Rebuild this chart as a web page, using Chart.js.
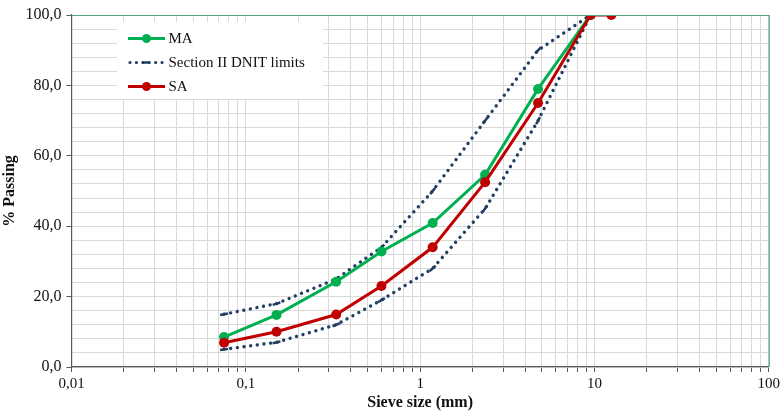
<!DOCTYPE html>
<html>
<head>
<meta charset="utf-8">
<script src="https://cdn.jsdelivr.net/npm/chart.js@4/dist/chart.umd.min.js"></script>
<style>
  html, body { margin: 0; padding: 0; background: #ffffff; }
  #wrap { width: 783px; height: 412px; position: relative; }
</style>
</head>
<body>
<div id="wrap"><canvas id="c" width="783" height="412"></canvas></div>
<script>
// ---- data ----
const sieveSizes = [0.075, 0.15, 0.33, 0.6, 1.18, 2.36, 4.75, 9.5];
const sieveSizesSA = [0.075, 0.15, 0.33, 0.6, 1.18, 2.36, 4.75, 9.5, 12.5];
const passingMA = [8.5, 14.8, 24.2, 32.8, 40.9, 54.6, 79.0, 100];
const passingSA = [6.9, 10.0, 14.9, 23.0, 34.0, 52.5, 75.0, 100, 100];
const dnitUpper = [15, 18, 25, 34, 50, 70, 90, 100];
const dnitLower = [5, 7, 12, 19, 28, 45, 70, 100];
const xTickLabels = { "0.01": "0,01", "0.1": "0,1", "1": "1", "10": "10", "100": "100" };
const seriesNames = ["MA", "Section II DNIT limits", "SA"];
const xTitle = "Sieve size (mm)";
const yTitle = "% Passing";

const GREEN = "#00B050";
const RED = "#C00000";
const NAVY = "#223F63";
const GRID = "#D9D9D9";
const AXIS = "#595959";
const FRAME = "#4FA87C";
const FONT = "'Liberation Serif', 'Times New Roman', serif";

function pts(xs, ys) { return xs.map((x, i) => ({ x: x, y: ys[i] })); }

function dashRotation(ctx) {
  const chart = ctx.chart;
  const d = ctx.dataset.data;
  const i = ctx.dataIndex;
  const sx = chart.scales.x, sy = chart.scales.y;
  if (!sx || !sy || !d || d.length < 2) return 0;
  const a = d[Math.max(0, i - 1)], b = d[Math.min(d.length - 1, i + 1)];
  const dx = sx.getPixelForValue(b.x) - sx.getPixelForValue(a.x);
  const dy = sy.getPixelForValue(b.y) - sy.getPixelForValue(a.y);
  return Math.atan2(dy, dx) * 180 / Math.PI;
}

const dnitStyle = {
  borderColor: NAVY,
  backgroundColor: NAVY,
  borderWidth: 3.4,
  borderDash: [0.01, 6.7],
  borderCapStyle: "round",
  pointStyle: "line",
  pointRadius: 4,
  pointBorderWidth: 2.5,
  pointBorderColor: NAVY,
  rotation: dashRotation,
  showLine: true,
  tension: 0
};

const framePlugin = {
  id: "frame",
  afterDatasetsDraw(chart) {
    const { ctx, chartArea: a } = chart;
    ctx.save();
    ctx.strokeStyle = FRAME;
    ctx.lineWidth = 1.2;
    ctx.beginPath();
    ctx.moveTo(a.left, a.top + 0.5);
    ctx.lineTo(a.right + 0.5, a.top + 0.5);
    ctx.lineTo(a.right + 0.5, a.bottom);
    ctx.stroke();
    ctx.restore();
  }
};

const legendPlugin = {
  id: "boxLegend",
  afterDraw(chart) {
    const ctx = chart.ctx;
    ctx.save();
    ctx.fillStyle = "#ffffff";
    ctx.fillRect(117, 22, 206, 77);
    const rows = [
      { y: 38.5, color: GREEN, type: "solid", label: seriesNames[0] },
      { y: 62.5, color: NAVY, type: "dot", label: seriesNames[1] },
      { y: 86.5, color: RED, type: "solid", label: seriesNames[2] }
    ];
    rows.forEach(r => {
      ctx.strokeStyle = r.color;
      ctx.fillStyle = r.color;
      if (r.type === "solid") {
        ctx.lineWidth = 3;
        ctx.setLineDash([]);
        ctx.beginPath();
        ctx.moveTo(128, r.y);
        ctx.lineTo(165, r.y);
        ctx.stroke();
        ctx.beginPath();
        ctx.arc(146.5, r.y, 4.5, 0, Math.PI * 2);
        ctx.fill();
      } else {
        ctx.lineWidth = 3.2;
        ctx.lineCap = "round";
        ctx.setLineDash([0.01, 6.4]);
        ctx.beginPath();
        ctx.moveTo(130, r.y);
        ctx.lineTo(166, r.y);
        ctx.stroke();
        ctx.setLineDash([]);
        ctx.lineCap = "butt";
        ctx.lineWidth = 2.5;
        ctx.beginPath();
        ctx.moveTo(143, r.y);
        ctx.lineTo(150, r.y);
        ctx.stroke();
      }
      ctx.fillStyle = "#111111";
      ctx.font = "15px " + FONT;
      ctx.textBaseline = "middle";
      ctx.textAlign = "left";
      ctx.fillText(r.label, 168.5, r.y + 0.5);
    });
    ctx.restore();
  }
};

const logTicks = [];
for (let e = -2; e <= 1; e++) {
  for (let m = 1; m <= 9; m++) logTicks.push(parseFloat((m * Math.pow(10, e)).toPrecision(3)));
}
logTicks.push(100);

new Chart(document.getElementById("c"), {
  type: "scatter",
  data: {
    datasets: [
      {
        label: seriesNames[2],
        data: pts(sieveSizesSA, passingSA),
        borderColor: RED, backgroundColor: RED,
        borderWidth: 3, pointRadius: 5, pointBorderWidth: 0,
        showLine: true, tension: 0
      },
      {
        label: seriesNames[0],
        data: pts(sieveSizes, passingMA),
        borderColor: GREEN, backgroundColor: GREEN,
        borderWidth: 3, pointRadius: 5, pointBorderWidth: 0,
        showLine: true, tension: 0
      },
      Object.assign({ label: seriesNames[1], data: pts(sieveSizes, dnitUpper) }, dnitStyle),
      Object.assign({ label: seriesNames[1] + " (lower)", data: pts(sieveSizes, dnitLower) }, dnitStyle)
    ]
  },
  options: {
    responsive: false,
    animation: false,
    events: [],
    layout: { padding: { left: 0, right: 12, top: 15, bottom: 0 } },
    plugins: { legend: { display: false }, tooltip: { enabled: false } },
    scales: {
      x: {
        type: "logarithmic",
        min: 0.01, max: 100,
        afterBuildTicks(scale) { scale.ticks = logTicks.map(v => ({ value: v })); },
        afterFit(scale) { scale.height = 45; },
        ticks: {
          autoSkip: false, maxRotation: 0, minRotation: 0,
          padding: 3,
          color: "#111111",
          font: { family: FONT, size: 15 },
          callback(v) { const k = String(parseFloat(Number(v).toPrecision(3))); return xTickLabels[k] !== undefined ? xTickLabels[k] : ""; }
        },
        grid: { color: GRID, lineWidth: 1, tickLength: 5, tickColor: AXIS, drawTicks: true },
        border: { display: true, color: AXIS, width: 1.2 },
        title: {
          display: true, text: xTitle, color: "#111111",
          font: { family: FONT, size: 16, weight: "bold" },
          padding: { top: 0, bottom: 0 }
        }
      },
      y: {
        min: 0, max: 100,
        afterFit(scale) { scale.width = 71.5; },
        ticks: {
          stepSize: 4,
          autoSkip: false,
          padding: 5,
          color: "#111111",
          font: { family: FONT, size: 16 },
          callback(v) { return (Math.round(v) % 20 === 0) ? Number(v).toFixed(1).replace(".", ",") : ""; }
        },
        grid: {
          color: GRID, lineWidth: 1, tickLength: 5,
          tickColor: (c) => (c.tick && Math.round(c.tick.value) % 20 === 0) ? AXIS : "rgba(0,0,0,0)"
        },
        border: { display: true, color: AXIS, width: 1.2 },
        title: {
          display: true, text: yTitle, color: "#111111",
          font: { family: FONT, size: 16, weight: "bold" },
          padding: { top: 0, bottom: 0 }
        }
      }
    }
  },
  plugins: [framePlugin, legendPlugin]
});
</script>
</body>
</html>
